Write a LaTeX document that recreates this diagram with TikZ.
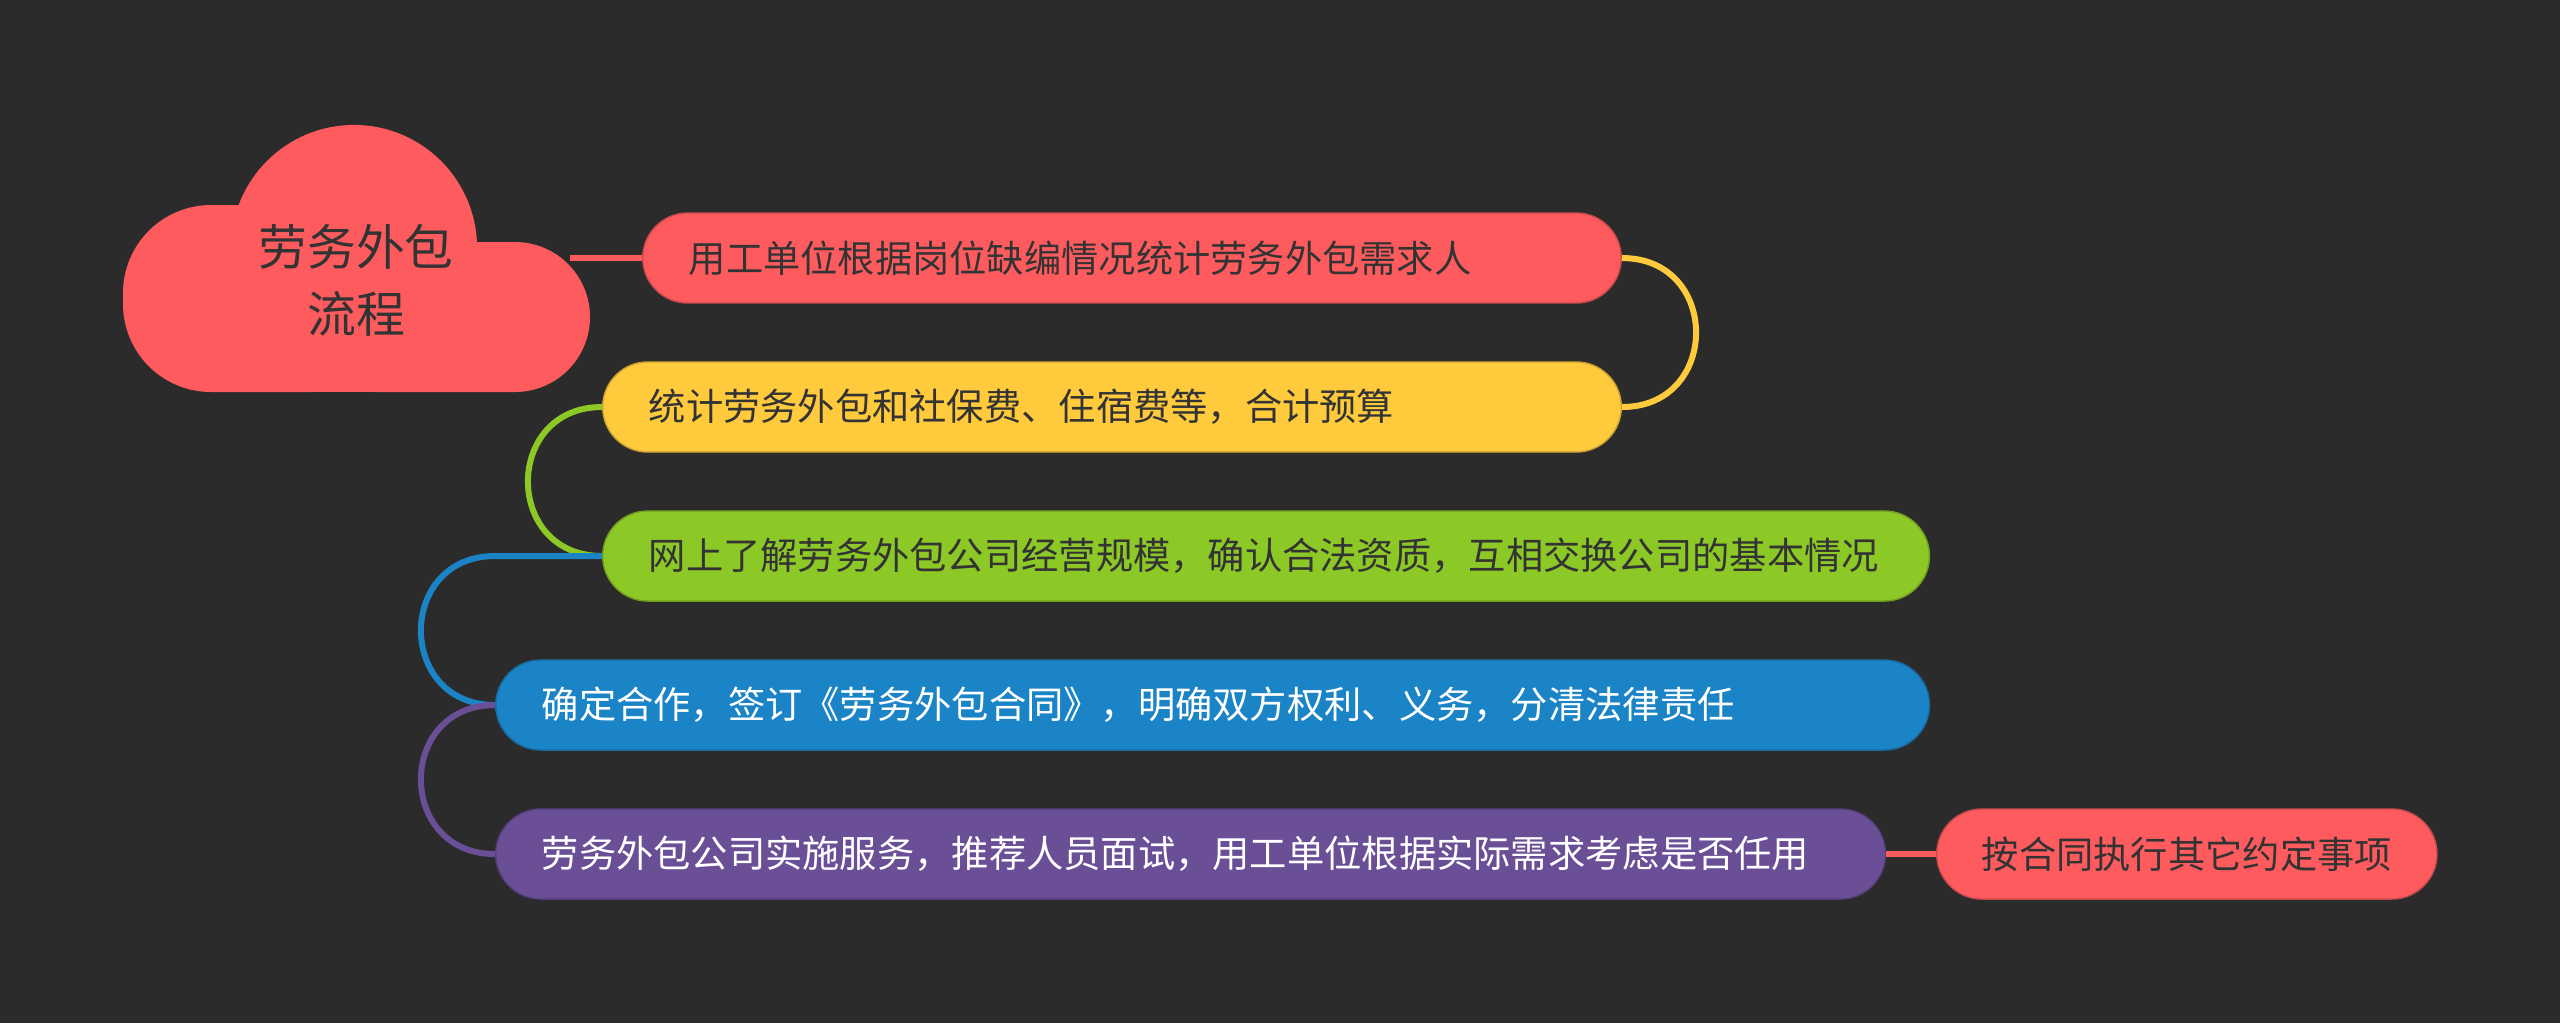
\documentclass[tikz,border=0pt]{standalone}
\usepackage{fontspec}
\newfontfamily\cjk{Noto Sans CJK SC}
\usepackage{xcolor}
\definecolor{bgDark}{HTML}{2B2B2B}
\definecolor{inkDark}{HTML}{333333}
\definecolor{mapRed}{HTML}{FD5B5E}
\definecolor{mapYellow}{HTML}{FFCB3C}
\definecolor{mapGreen}{HTML}{8CC826}
\definecolor{mapBlue}{HTML}{1B84C6}
\definecolor{mapPurple}{HTML}{6A4F97}

\begin{document}
\begin{tikzpicture}[
  x=0.01cm, y=-0.01cm,
  every node/.style={font=\cjk\fontsize{10.6pt}{13pt}\selectfont},
  pill/.style={rectangle,rounded corners=0.45cm,minimum height=0.9cm,
    inner xsep=0.46cm,inner ysep=0pt,anchor=west,align=left,
    fill=#1,draw=#1!80!black,line width=0.4pt},
  darkText/.style={text=inkDark},
  lightText/.style={text=white},
  titleText/.style={text=inkDark,align=center,
    font=\cjk\fontsize{13.9pt}{19pt}\selectfont},
  linkTo/.style={draw=#1,line width=0.06cm}]

  % background and frame
  \fill[bgDark] (0,0) rectangle (2560,1023);
  \useasboundingbox (0,0) rectangle (2560,1023);

  % the cloud round the title
  \fill[mapRed] (354,248) circle[radius=1.23cm];
  \fill[mapRed,rounded corners=0.88cm] (123,205) rectangle (400,392);
  \fill[mapRed,rounded corners=0.75cm] (300,242) rectangle (590,392);
  \fill[mapRed] (250,300) rectangle (480,392);
  \node[titleText] (tTitle) at (356,280) {劳务外包\\流程};
  \coordinate (cPort) at (570,258);

  % steps
  \node[pill=mapRed,darkText,text width=8.86cm] (pDemand) at (642,258)
    {用工单位根据岗位缺编情况统计劳务外包需求人};
  \node[pill=mapYellow,darkText,text width=9.26cm] (pBudget) at (602,407)
    {统计劳务外包和社保费、住宿费等，合计预算};
  \node[pill=mapGreen,darkText,text width=12.34cm] (pSurvey) at (602,556)
    {网上了解劳务外包公司经营规模，确认合法资质，互相交换公司的基本情况};
  \node[pill=mapBlue,lightText,text width=13.41cm] (pContract) at (495,705)
    {确定合作，签订《劳务外包合同》，明确双方权利、义务，分清法律责任};
  \node[pill=mapPurple,lightText,text width=12.97cm] (pService) at (495,854)
    {劳务外包公司实施服务，推荐人员面试，用工单位根据实际需求考虑是否任用};
  \node[pill=mapRed,darkText,minimum width=5cm,inner xsep=0.2cm,align=center] (pExecute) at (1936,854)
    {按合同执行其它约定事项};

  % connectors
  \draw [linkTo=mapRed] (cPort) -- (pDemand.west);
  \draw [linkTo=mapYellow] (pDemand.east) to[out=0,in=0,looseness=1.7] (pBudget.east);
  \draw [linkTo=mapGreen] (pBudget.west) to[out=180,in=180,looseness=1.7] (pSurvey.west);
  \draw [linkTo=mapBlue] (pSurvey.west) -- (pSurvey.west -| pContract.west)
    to[out=180,in=180,looseness=1.7] (pContract.west);
  \draw [linkTo=mapPurple] (pContract.west) to[out=180,in=180,looseness=1.7] (pService.west);
  \draw [linkTo=mapRed] (pService.east) -- (pExecute.west);
\end{tikzpicture}
\end{document}
